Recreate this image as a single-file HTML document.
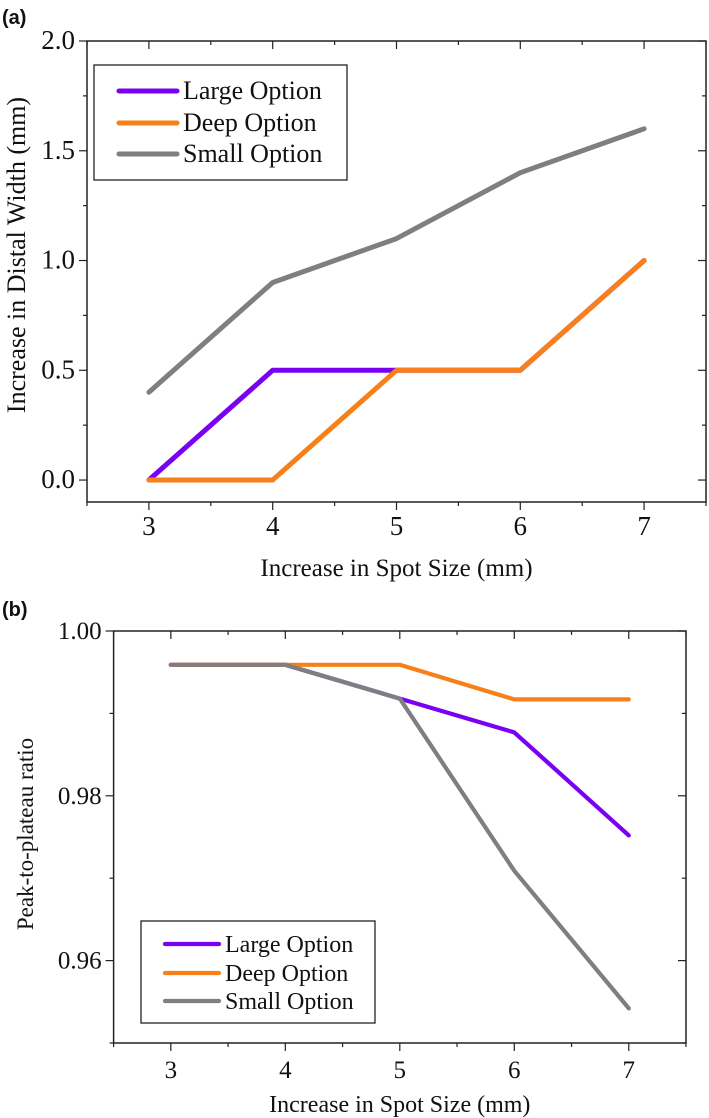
<!DOCTYPE html>
<html><head><meta charset="utf-8"><style>
html,body{margin:0;padding:0;background:#fff}
svg{display:block}
text{font-family:"Liberation Serif",serif;fill:#111}
</style></head><body>
<svg id="chart" width="709" height="1118" viewBox="0 0 709 1118" xmlns="http://www.w3.org/2000/svg">
<text x="2" y="24" style="font-family:'Liberation Sans',sans-serif;font-weight:bold;font-size:20px">(a)</text>
<text x="2" y="616" style="font-family:'Liberation Sans',sans-serif;font-weight:bold;font-size:20px">(b)</text>
</svg>
<script>
const categories = [3, 4, 5, 6, 7];
const seriesNames = ["Large Option", "Deep Option", "Small Option"];
const widthLarge = [0, 0.5, 0.5, 0.5, 1.0];
const widthDeep = [0, 0, 0.5, 0.5, 1.0];
const widthSmall = [0.4, 0.9, 1.1, 1.4, 1.6];
const ratioLarge = [0.9959, 0.9959, 0.9918, 0.9877, 0.9752];
const ratioDeep = [0.9959, 0.9959, 0.9959, 0.9917, 0.9917];
const ratioSmall = [0.9959, 0.9959, 0.9918, 0.9709, 0.9542];
const xTicks = [3, 4, 5, 6, 7];
const yTicksA = [0, 0.5, 1.0, 1.5, 2.0];
const yTickLabelsA = ["0.0", "0.5", "1.0", "1.5", "2.0"];
const yTicksB = [0.96, 0.98, 1.00];
const yTickLabelsB = ["0.96", "0.98", "1.00"];

const colors = ["#7a00f2", "#f7801a", "#7f7f7f"];
const NS = "http://www.w3.org/2000/svg";
const svg = document.getElementById('chart');
function mk(tag, attrs, parent) {
  const e = document.createElementNS(NS, tag);
  for (const k in attrs) e.setAttribute(k, attrs[k]);
  (parent || svg).appendChild(e);
  return e;
}

function panel(cfg) {
  const g = mk('g', {});
  
  
  const sx = v => cfg.L + (v - cfg.x0) / (cfg.x1 - cfg.x0) * (cfg.R - cfg.L);
  const sy = v => cfg.B - (v - cfg.y0) / (cfg.y1 - cfg.y0) * (cfg.B - cfg.T);
  const frame = mk('rect', {x: cfg.L, y: cfg.T, width: cfg.R - cfg.L, height: cfg.B - cfg.T, fill: 'none', stroke: '#222', 'stroke-width': 1.5}, g);
  
  
  for (let v = cfg.x0; v <= cfg.x1 + 1e-9; v += 0.5) {
    const major = Math.abs(v - Math.round(v)) < 1e-9;
    const len = major ? 8 : 4;
    const X = sx(v);
    const t1 = mk('line', {x1: X, x2: X, y1: cfg.B, y2: cfg.B + len, stroke: '#222', 'stroke-width': 1.2}, g);
    
    
    const t2 = mk('line', {x1: X, x2: X, y1: cfg.T, y2: cfg.T + len, stroke: '#222', 'stroke-width': 1.2}, g);
    
    
  }
  xTicks.forEach(v => {
    const t = mk('text', {x: sx(v), y: cfg.xLabelY, 'text-anchor': 'middle', 'font-size': cfg.tickFont}, g);
    t.textContent = v;
    
    
  });
  for (let i = 0; ; i++) {
    const v = cfg.yMinorStart + i * cfg.yMinor;
    if (v > cfg.y1 + 1e-9) break;
    const major = cfg.yTicks.some(m => Math.abs(m - v) < 1e-9);
    const len = major ? 8 : 4;
    const Y = sy(v);
    const t1 = mk('line', {x1: cfg.L - len, x2: cfg.L, y1: Y, y2: Y, stroke: '#222', 'stroke-width': 1.2}, g);
    
    
    const t2 = mk('line', {x1: cfg.R - len, x2: cfg.R, y1: Y, y2: Y, stroke: '#222', 'stroke-width': 1.2}, g);
    
    
  }
  cfg.yTicks.forEach((v, i) => {
    const t = mk('text', {x: cfg.L - 12, y: sy(v) + 8, 'text-anchor': 'end', 'font-size': cfg.tickFont}, g);
    t.textContent = cfg.yLabels[i];
    
    
  });
  const xt = mk('text', {x: (cfg.L + cfg.R) / 2 + cfg.xTitleDx, y: cfg.xTitleY, 'text-anchor': 'middle', 'font-size': cfg.titleFont}, g);
  xt.textContent = 'Increase in Spot Size (mm)';
  
  
  const yt = mk('text', {x: 0, y: 0, 'text-anchor': 'middle', 'font-size': cfg.yTitleFont, transform: `translate(${cfg.yTitleX},${cfg.yTitleY}) rotate(-90)`}, g);
  yt.textContent = cfg.yTitle;
  
  
  cfg.series.forEach((s, k) => {
    const pts = categories.map((c, i) => sx(c).toFixed(1) + ',' + sy(s[i]).toFixed(1)).join(' ');
    const p = mk('polyline', {points: pts, fill: 'none', stroke: colors[k], 'stroke-width': cfg.lw, 'stroke-linejoin': 'round', 'stroke-linecap': 'round'}, g);
    
    
  });
  const lg = mk('g', {}, g);
  
  
  const box = mk('rect', {x: cfg.lx, y: cfg.ly, width: cfg.lw2, height: cfg.lh, fill: '#fff', stroke: '#222', 'stroke-width': 1.3}, lg);
  
  
  seriesNames.forEach((n, k) => {
    const Y = cfg.rows[k];
    const l = mk('line', {x1: cfg.l1, x2: cfg.l2, y1: Y, y2: Y, stroke: colors[k], 'stroke-width': cfg.lw, 'stroke-linecap': 'round'}, lg);
    
    
    const t = mk('text', {x: cfg.l2 + 6, y: Y + 8, 'font-size': cfg.legFont}, lg);
    t.textContent = n;
    
    
  });
}

panel({name: 'panel-a-chart', L: 87, R: 706, T: 41, B: 502, x0: 2.5, x1: 7.5, y0: -0.1, y1: 2.0,
  yTicks: yTicksA, yLabels: yTickLabelsA, yMinor: 0.25, yMinorStart: 0,
  tickFont: 27, xLabelY: 535, titleFont: 25, xTitleY: 576, xTitleDx: 0,
  yTitle: 'Increase in Distal Width (mm)', yTitleFont: 26, yTitleX: 25, yTitleY: 255,
  series: [widthLarge, widthDeep, widthSmall], lw: 5,
  lx: 94, ly: 65, lw2: 253, lh: 115, l1: 119, l2: 177, rows: [91, 123, 154], legFont: 26});

panel({name: 'panel-b-chart', L: 113.6, R: 686, T: 631, B: 1043, x0: 2.5, x1: 7.5, y0: 0.95, y1: 1.00,
  yTicks: yTicksB, yLabels: yTickLabelsB, yMinor: 0.01, yMinorStart: 0.95,
  tickFont: 25, xLabelY: 1078, titleFont: 24, xTitleY: 1112, xTitleDx: 0,
  yTitle: 'Peak-to-plateau ratio', yTitleFont: 23, yTitleX: 33, yTitleY: 834,
  series: [ratioLarge, ratioDeep, ratioSmall], lw: 4.2,
  lx: 141, ly: 921, lw2: 234, lh: 102, l1: 165, l2: 219, rows: [944, 973, 1001], legFont: 24});
</script>
</body></html>
